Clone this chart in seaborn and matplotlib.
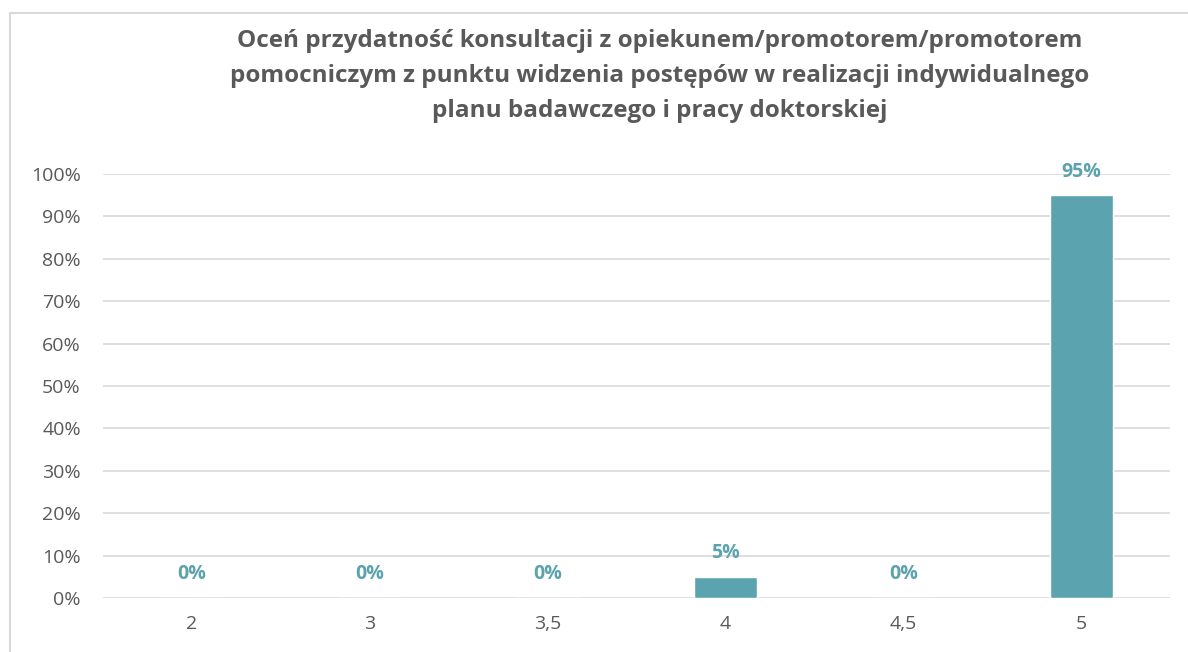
import matplotlib
matplotlib.use("Agg")
import matplotlib.pyplot as plt
import seaborn as sns
import pandas as pd
from matplotlib.patches import Rectangle
from matplotlib.ticker import PercentFormatter

# data
ratings = ["2", "3", "3,5", "4", "4,5", "5"]
shares = [0.0, 0.0, 0.0, 0.05, 0.0, 0.95]
share_labels = ["0%", "0%", "0%", "5%", "0%", "95%"]

title = ("Oceń przydatność konsultacji z opiekunem/promotorem/promotorem\n"
         "pomocniczym z punktu widzenia postępów w realizacji indywidualnego\n"
         "planu badawczego i pracy doktorskiej")

bar_color = "#5BA3AF"
text_gray = "#595959"
grid_gray = "#D9D9D9"

sns.set_theme(style="white")
plt.rcParams['font.family'] = ['Open Sans', 'DejaVu Sans']

df = pd.DataFrame({"rating": ratings, "share": shares})

fig = plt.figure(figsize=(11.88, 6.52), dpi=100)
ax = fig.add_axes([103 / 1188, 1 - 598 / 652, (1170 - 103) / 1188, (598 - 174) / 652])

sns.barplot(data=df, x="rating", y="share", color=bar_color, width=0.355,
            saturation=1, ax=ax, zorder=3)

ax.set_ylim(0, 1)
ax.set_xlim(-0.5, len(ratings) - 0.5)
ax.set_yticks([i / 10 for i in range(11)])
ax.yaxis.set_major_formatter(PercentFormatter(1.0, decimals=0))
ax.grid(axis="y", color=grid_gray, linewidth=1.2, zorder=0)
ax.set_axisbelow(True)
for s in ax.spines.values():
    s.set_visible(False)
ax.tick_params(axis="both", length=0, labelsize=14, colors=text_gray)
ax.tick_params(axis="x", pad=12)
ax.tick_params(axis="y", pad=16)
ax.set_xlabel("")
ax.set_ylabel("")

for i, (v, lab) in enumerate(zip(shares, share_labels)):
    ax.annotate(lab, (i, v), xytext=(0, 17), textcoords="offset points",
                ha="center", va="center", fontsize=14, fontweight="bold",
                color=bar_color)

fig.text(660 / 1188, 1 - 76 / 652, title, ha="center", va="center",
         fontsize=17.5, fontweight="bold", color=text_gray, linespacing=1.62)

# chart frame (cut off at right/bottom in the original)
fig.patches.append(Rectangle((10 / 1188, -0.1), 1.2, 1 - 13 / 652 + 0.1,
                             transform=fig.transFigure, fill=False,
                             edgecolor=grid_gray, linewidth=1.5))

fig.savefig("out.png", dpi=100, facecolor="white")
